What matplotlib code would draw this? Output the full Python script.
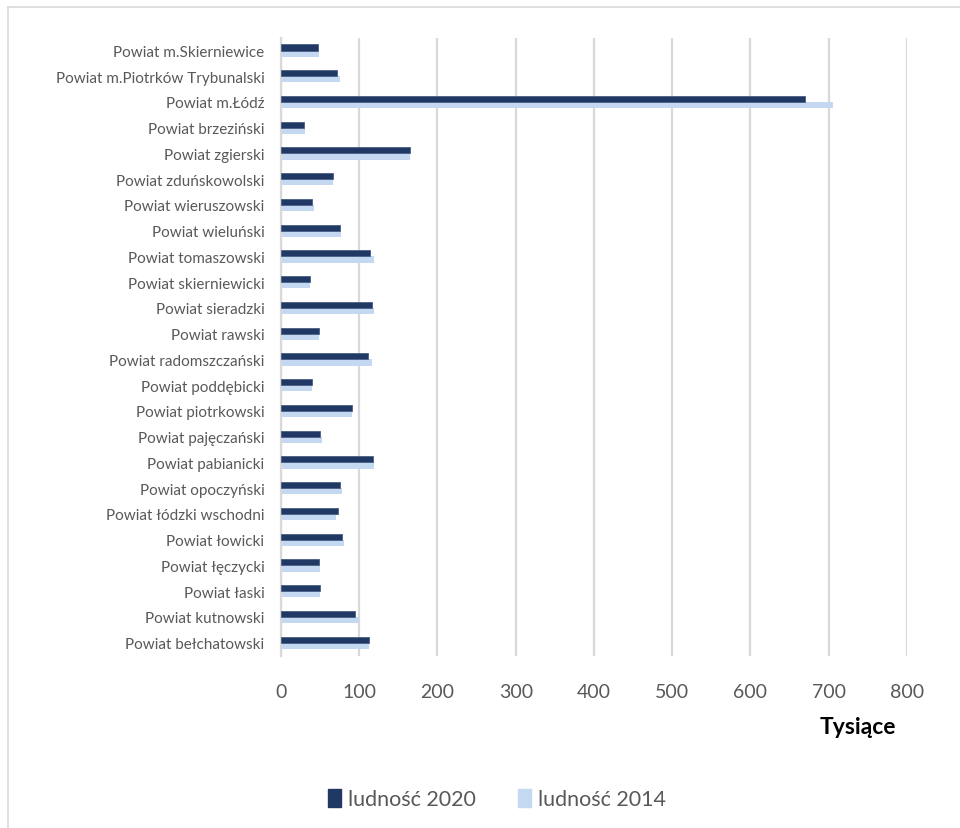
import numpy as np
import matplotlib.pyplot as plt
from matplotlib.patches import Rectangle
from matplotlib.lines import Line2D

# powiaty, od gory wykresu do dolu
powiaty = [
    "Powiat m.Skierniewice", "Powiat m.Piotrków Trybunalski", "Powiat m.Łódź",
    "Powiat brzeziński", "Powiat zgierski", "Powiat zduńskowolski",
    "Powiat wieruszowski", "Powiat wieluński", "Powiat tomaszowski",
    "Powiat skierniewicki", "Powiat sieradzki", "Powiat rawski",
    "Powiat radomszczański", "Powiat poddębicki", "Powiat piotrkowski",
    "Powiat pajęczański", "Powiat pabianicki", "Powiat opoczyński",
    "Powiat łódzki wschodni", "Powiat łowicki", "Powiat łęczycki",
    "Powiat łaski", "Powiat kutnowski", "Powiat bełchatowski",
]
ludnosc_2020 = [47, 72, 670, 30, 165, 67, 40, 75, 114, 37, 116, 49,
                111, 40, 91, 50, 118, 75, 73, 78, 49, 50, 95, 113]
ludnosc_2014 = [49, 75, 706, 31, 165, 67, 42, 77, 119, 37, 119, 49,
                116, 40, 91, 52, 119, 78, 70, 80, 50, 50, 100, 113]
x_ticks = [0, 100, 200, 300, 400, 500, 600, 700, 800]

DARK = "#1f3864"
LIGHT = "#c5d8f1"
TXT = "#595959"

plt.rcParams['font.family'] = ['Lato', 'DejaVu Sans']

fig = plt.figure(figsize=(9.6, 8.29), dpi=100)
ax = fig.add_axes([0.2927, 0.208, 0.652, 0.7454])

y = np.arange(len(powiaty))
h = 0.24
ax.barh(y - h / 2, ludnosc_2020, height=h, color=DARK, edgecolor="#4a5f85",
        linewidth=0.6, zorder=3)
ax.barh(y + h / 2, ludnosc_2014, height=h, color=LIGHT, zorder=2)

ax.set_ylim(len(powiaty) - 0.5, -0.5)
ax.set_xlim(0, 800)
ax.set_xticks(x_ticks)
ax.set_yticks(y)
ax.set_yticklabels(powiaty, fontsize=11, color=TXT)
ax.tick_params(axis="x", labelsize=14, labelcolor=TXT, length=0, pad=20)
ax.tick_params(axis="y", length=0, pad=12)

ax.grid(axis="x", color="#d9d9d9", linewidth=1.6, zorder=0)
for s in ["top", "right", "bottom"]:
    ax.spines[s].set_visible(False)
ax.spines["left"].set_color("#d9d9d9")
ax.spines["left"].set_linewidth(1.6)

fig.text(858 / 960, 1 - 728 / 829, "Tysiące", fontsize=16.5, fontweight="bold",
         ha="center", va="center", color="black")

handles = [Rectangle((0, 0), 1, 1, color=DARK), Rectangle((0, 0), 1, 1, color=LIGHT)]
fig.legend(handles, ["ludność 2020", "ludność 2014"], loc="center",
           bbox_to_anchor=(497 / 960, 1 - 800 / 829), ncol=2, frameon=False,
           fontsize=15.5, labelcolor=TXT, handlelength=0.6, handleheight=0.9,
           handletextpad=0.3, columnspacing=2.0)

# ramka obszaru wykresu
fig.add_artist(Line2D([8 / 960, 8 / 960], [0, 1 - 8 / 829], color="#d9d9d9",
                      linewidth=1.2, transform=fig.transFigure))
fig.add_artist(Line2D([8 / 960, 1], [1 - 8 / 829, 1 - 8 / 829], color="#d9d9d9",
                      linewidth=1.2, transform=fig.transFigure))

plt.savefig("out.png", dpi=100)
